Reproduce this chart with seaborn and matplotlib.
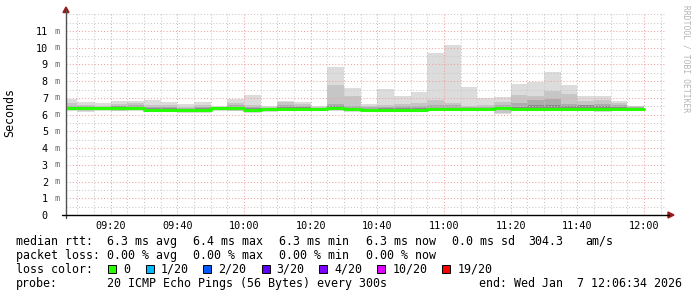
import matplotlib
matplotlib.use("Agg")
import matplotlib.pyplot as plt
import seaborn as sns
import pandas as pd
from matplotlib.patches import Rectangle, Polygon
from matplotlib.transforms import blended_transform_factory

# ---------------- data ----------------
bin_start = ["09:05", "09:10", "09:15", "09:20", "09:25", "09:30", "09:35",
             "09:40", "09:45", "09:50", "09:55", "10:00", "10:05", "10:10",
             "10:15", "10:20", "10:25", "10:30", "10:35", "10:40", "10:45",
             "10:50", "10:55", "11:00", "11:05", "11:10", "11:15", "11:20",
             "11:25", "11:30", "11:35", "11:40", "11:45", "11:50", "11:55"]
bin_end = "12:00"

rtt_max = [6.95, 6.73, 6.71, 6.81, 6.81, 6.89, 6.75, 6.61, 6.75, 6.50, 6.95, 7.17,
           6.51, 6.83, 6.75, 6.51, 8.84, 7.61, 6.63, 7.51, 7.11, 7.37, 9.69, 10.17,
           7.66, 7.00, 7.04, 7.84, 7.98, 8.57, 7.78, 7.12, 7.12, 6.84, 6.52]
rtt_q_hi = [6.67, 6.57, 6.52, 6.62, 6.67, 6.55, 6.55, 6.48, 6.60, 6.47, 6.70, 6.58,
            6.45, 6.75, 6.62, 6.45, 7.78, 7.13, 6.52, 6.60, 6.62, 6.70, 6.85, 6.72,
            6.50, 6.55, 6.75, 7.19, 7.13, 7.43, 7.25, 6.79, 6.90, 6.72, 6.50]
rtt_p_hi = [6.52, 6.50, 6.47, 6.52, 6.55, 6.45, 6.45, 6.42, 6.48, 6.45, 6.55, 6.48,
            6.42, 6.55, 6.50, 6.42, 6.65, 6.50, 6.45, 6.48, 6.50, 6.50, 6.55, 6.56,
            6.45, 6.45, 6.55, 6.70, 6.88, 6.95, 6.64, 6.60, 6.62, 6.55, 6.45]
rtt_d_hi = [6.46, 6.44, 6.44, 6.50, 6.46, 6.38, 6.38, 6.36, 6.40, 6.42, 6.46, 6.38,
            6.38, 6.44, 6.44, 6.40, 6.52, 6.42, 6.36, 6.38, 6.40, 6.42, 6.40, 6.42,
            6.40, 6.38, 6.48, 6.44, 6.55, 6.55, 6.52, 6.58, 6.50, 6.44, 6.40]
rtt_median = [6.40, 6.40, 6.40, 6.42, 6.40, 6.30, 6.30, 6.30, 6.30, 6.37, 6.40, 6.30,
              6.32, 6.36, 6.36, 6.35, 6.38, 6.33, 6.30, 6.30, 6.30, 6.30, 6.32, 6.32,
              6.32, 6.32, 6.40, 6.34, 6.35, 6.34, 6.34, 6.34, 6.34, 6.34, 6.34]
rtt_d_lo = [6.30, 6.28, 6.30, 6.32, 6.30, 6.22, 6.22, 6.20, 6.20, 6.28, 6.30, 6.20,
            6.24, 6.26, 6.26, 6.26, 6.28, 6.22, 6.22, 6.22, 6.22, 6.22, 6.24, 6.24,
            6.24, 6.24, 6.28, 6.26, 6.26, 6.26, 6.24, 6.24, 6.24, 6.26, 6.26]
rtt_q_lo = [6.25, 6.22, 6.25, 6.24, 6.25, 6.22, 6.22, 6.18, 6.15, 6.25, 6.24, 6.18,
            6.22, 6.24, 6.24, 6.24, 6.26, 6.20, 6.22, 6.24, 6.24, 6.24, 6.24, 6.26,
            6.24, 6.24, 6.12, 6.24, 6.24, 6.24, 6.24, 6.24, 6.22, 6.24, 6.26]
rtt_min = [6.22, 6.16, 6.22, 6.20, 6.22, 6.18, 6.18, 6.12, 6.08, 6.22, 6.20, 6.12,
           6.18, 6.20, 6.20, 6.20, 6.22, 6.15, 6.18, 6.20, 6.20, 6.20, 6.20, 6.22,
           6.20, 6.20, 6.05, 6.20, 6.20, 6.20, 6.20, 6.20, 6.18, 6.20, 6.22]

y_ticks = [0, 1, 2, 3, 4, 5, 6, 7, 8, 9, 10, 11]
y_tick_labels = ["0", "1", "2", "3", "4", "5", "6", "7", "8", "9", "10", "11"]
x_tick_times = ["09:20", "09:40", "10:00", "10:20", "10:40", "11:00", "11:20", "11:40", "12:00"]
view_start, view_end = "09:06:34", "12:06:34"

loss_labels = ["0", "1/20", "2/20", "3/20", "4/20", "10/20", "19/20"]
loss_colors = ["#26ff00", "#00b8ff", "#0059ff", "#5e00ff", "#7e00ff", "#dd00ff", "#ff0000"]

legend_rows = [
    ["median rtt:", "6.3 ms avg", "6.4 ms max", "6.3 ms min", "6.3 ms now", "0.0 ms sd", "304.3", "am/s"],
    ["packet loss:", "0.00 % avg", "0.00 % max", "0.00 % min", "0.00 % now"],
    ["loss color:"],
    ["probe:", "20 ICMP Echo Pings (56 Bytes) every 300s", "end: Wed Jan  7 12:06:34 2026"],
]


def tmin(s):
    parts = [float(p) for p in s.split(":")]
    v = parts[0] * 60 + parts[1]
    if len(parts) > 2:
        v += parts[2] / 60
    return v


# ---------------- layout ----------------
W, H = 697, 297
def fx(x): return x / W
def fy(y): return 1 - y / H

sns.set_theme(style="white")
plt.rcParams["font.family"] = ["DejaVu Sans Mono", "DejaVu Sans"]

fig = plt.figure(figsize=(W / 100, H / 100), dpi=100, facecolor="white")
ax_left, ax_right, ax_top, ax_bot = 66, 666, 13, 215
ax = fig.add_axes([fx(ax_left), fy(ax_bot), (ax_right - ax_left) / W, (ax_bot - ax_top) / H])
ax.set_facecolor("white")
px_per_ms = (215 - 31) / 11.0
ax.set_xlim(tmin(view_start), tmin(view_end))
ax.set_ylim(0, (ax_bot - ax_top) / px_per_ms)

xs = [tmin(t) for t in bin_start] + [tmin(bin_end)]
def ext(a): return list(a) + [a[-1]]

bands = [
    (rtt_min, rtt_max, "#dcdcdc"),
    (rtt_q_lo, rtt_q_hi, "#c6c6c6"),
    (rtt_d_lo, rtt_p_hi, "#adadad"),
    (rtt_d_lo, rtt_d_hi, "#8c8c8c"),
]
for lo, hi, c in bands:
    ax.fill_between(xs, ext(lo), ext(hi), step="post", color=c, linewidth=0, zorder=1)

df = pd.DataFrame({"t": xs, "median": ext(rtt_median)})
sns.lineplot(data=df, x="t", y="median", ax=ax, color=loss_colors[0], linewidth=2.2,
             drawstyle="steps-post", zorder=3, estimator=None)

# grid
for s in ax.spines.values():
    s.set_visible(False)
maj_x = [tmin(t) for t in x_tick_times]
ax.set_xticks(maj_x)
ax.set_xticklabels(x_tick_times)
ax.set_xticks([tmin("09:10") + 5 * i for i in range(0, 36) if (tmin("09:10") + 5 * i) % 20 != 0], minor=True)
ax.set_yticks(y_ticks)
ax.set_yticklabels(y_tick_labels)
ax.set_yticks([0.5 + i for i in range(12)] + [12.0], minor=True)
ax.grid(which="major", color="#f0a0a0", linestyle=(0, (1, 2)), linewidth=0.75, zorder=2)
ax.grid(which="minor", color="#c8c8c8", linestyle=(0, (1, 2)), linewidth=0.75, zorder=2)
ax.set_axisbelow(False)
ax.tick_params(axis="both", which="both", length=0)
ax.tick_params(axis="x", labelsize=7.3, pad=4.2, colors="#000000")
ax.tick_params(axis="y", labelsize=7.3, pad=13.0, colors="#000000")
for lbl in ax.get_xticklabels() + ax.get_yticklabels():
    lbl.set_family("DejaVu Sans Mono")
ax.set_xlabel("")
ax.set_ylabel("")

# unit "m" after y labels
tr = blended_transform_factory(fig.transFigure, ax.transData)
for v in y_ticks:
    if v > 0:
        fig.text(fx(57), 0, "m", transform=tr, ha="center", va="center",
                 fontsize=6.2, color="#707070").set_y(v)

# axis lines and arrows
fig.add_artist(plt.Line2D([fx(66), fx(66)], [fy(218), fy(10)], color="#505050", linewidth=1.0))
fig.add_artist(plt.Line2D([fx(62), fx(669)], [fy(215), fy(215)], color="#000000", linewidth=1.0))
fig.add_artist(Polygon([[fx(63), fy(12.5)], [fx(69), fy(12.5)], [fx(66), fy(7)]],
                       closed=True, color="#9a1818", transform=fig.transFigure))
fig.add_artist(Polygon([[fx(668), fy(212)], [fx(668), fy(218)], [fx(674), fy(215)]],
                       closed=True, color="#9a1818", transform=fig.transFigure))

# titles
fig.text(fx(10), fy(113), "Seconds", rotation=90, ha="center", va="center", fontsize=8.4, color="#000000")
fig.text(fx(686), fy(5), "RRDTOOL / TOBI OETIKER", rotation=270, ha="center", va="top",
         fontsize=5.8, color="#b4b4b4")

# legend text
row_x = [
    [16, 107.3, 193.3, 279.3, 365.5, 451.7, 528, 585],
    [16, 107.3, 193.3, 279.3, 365.7],
    [16],
    [16, 107.3, 479],
]
row_base = [245, 259, 273, 287]
for texts, xsx, yb in zip(legend_rows, row_x, row_base):
    for t, x in zip(texts, xsx):
        fig.text(fx(x), fy(yb), t, ha="left", va="baseline", fontsize=8.4, color="#000000")

box_x = [108.3, 145.7, 203.3, 261.7, 319.3, 377.3, 442.3]
for bx, lab, col in zip(box_x, loss_labels, loss_colors):
    fig.add_artist(Rectangle((fx(bx), fy(273.3)), 8 / W, 8 / H, facecolor=col, edgecolor="#000000",
                             linewidth=0.7, transform=fig.transFigure))
    fig.text(fx(bx + 15), fy(273), lab, ha="left", va="baseline", fontsize=8.4, color="#000000")

fig.savefig("out.png", dpi=100, facecolor="white")
